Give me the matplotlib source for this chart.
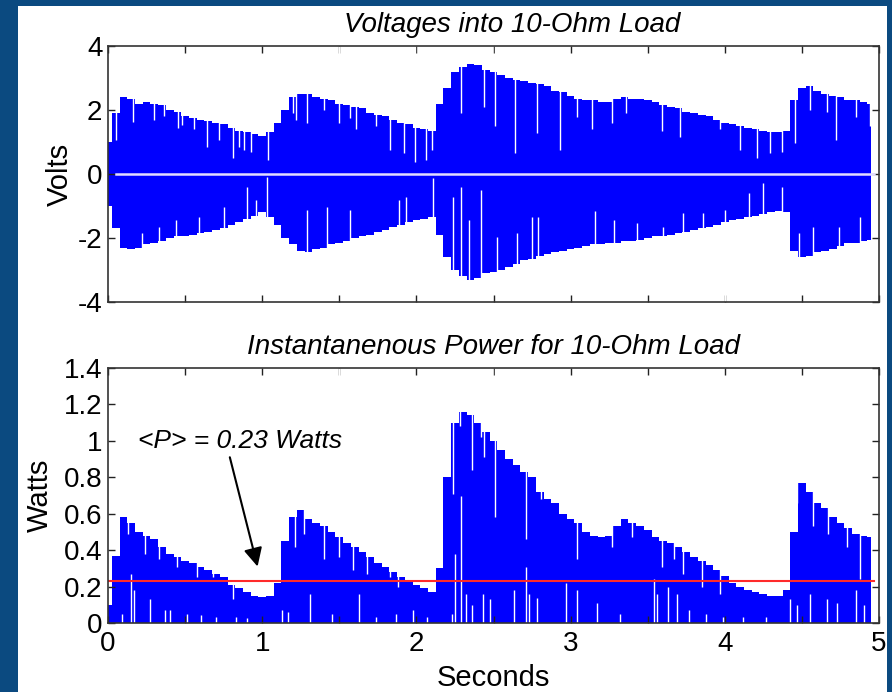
import numpy as np
import matplotlib
matplotlib.use("Agg")
import matplotlib.pyplot as plt
from matplotlib.patches import Rectangle

plt.rcParams["font.family"] = ["Liberation Sans", "DejaVu Sans"]
plt.rcParams["axes.unicode_minus"] = False

# ---------------------------------------------------------------- data
# envelope sample times (s)
t_env = np.round(np.arange(0.0, 5.0, 0.05), 2)

# voltage envelope (V), upper and lower
v_upper = [1.0, 1.9, 2.4, 2.35, 2.2, 2.25, 2.2, 2.15, 2.0, 1.95,
           1.8, 1.75, 1.7, 1.65, 1.6, 1.55, 1.45, 1.35, 1.3, 1.25,
           1.2, 1.3, 1.6, 2.0, 2.4, 2.5, 2.5, 2.4, 2.35, 2.3,
           2.2, 2.15, 2.1, 2.05, 1.9, 1.85, 1.8, 1.7, 1.6, 1.55,
           1.45, 1.4, 1.35, 2.2, 2.7, 3.2, 3.35, 3.45, 3.4, 3.25,
           3.2, 3.1, 3.0, 2.95, 2.9, 2.85, 2.8, 2.75, 2.6, 2.55,
           2.45, 2.35, 2.3, 2.3, 2.25, 2.25, 2.35, 2.4, 2.35, 2.35,
           2.3, 2.25, 2.15, 2.1, 2.05, 1.95, 1.9, 1.85, 1.8, 1.7,
           1.6, 1.55, 1.5, 1.45, 1.4, 1.35, 1.3, 1.3, 1.35, 2.3,
           2.7, 2.75, 2.6, 2.5, 2.45, 2.4, 2.3, 2.3, 2.25, 2.2]
v_lower = [-1.0, -1.7, -2.3, -2.35, -2.3, -2.2, -2.15, -2.1, -2.0, -1.95,
           -1.95, -1.9, -1.85, -1.8, -1.75, -1.7, -1.6, -1.5, -1.4, -1.3,
           -1.2, -1.35, -1.6, -2.0, -2.2, -2.4, -2.45, -2.35, -2.3, -2.2,
           -2.15, -2.1, -2.0, -1.95, -1.9, -1.8, -1.75, -1.65, -1.6, -1.5,
           -1.45, -1.4, -1.35, -1.9, -2.6, -3.0, -3.2, -3.3, -3.25, -3.1,
           -3.05, -3.0, -2.9, -2.8, -2.7, -2.65, -2.55, -2.5, -2.45, -2.4,
           -2.35, -2.3, -2.25, -2.2, -2.2, -2.15, -2.15, -2.1, -2.1, -2.05,
           -2.0, -1.95, -1.95, -1.9, -1.85, -1.8, -1.75, -1.7, -1.65, -1.6,
           -1.5, -1.45, -1.4, -1.35, -1.3, -1.25, -1.2, -1.15, -1.2, -2.4,
           -2.6, -2.55, -2.45, -2.4, -2.35, -2.25, -2.15, -2.15, -2.1, -2.05]

# short drops of the voltage peaks (time, level)
v_dip_hi_t = [0.05, 0.16, 0.30, 0.36, 0.455, 0.48, 0.56, 0.64, 0.72, 0.81,
              0.85, 0.88, 0.93, 1.04, 1.20, 1.22, 1.29, 1.40, 1.50, 1.57,
              1.61, 1.74, 1.83, 1.92, 1.99, 2.06, 2.10, 2.29, 2.44, 2.51,
              2.64, 2.78, 2.93, 3.04, 3.14, 3.27, 3.36, 3.59, 3.71, 3.97,
              4.10, 4.21, 4.29, 4.37, 4.455, 4.55, 4.66, 4.72, 4.85, 4.94]
v_dip_hi_v = [1.06, 1.63, 1.69, 1.81, 1.43, 1.53, 1.41, 0.85, 1.06, 0.49,
              0.85, 0.75, 0.70, 0.44, 1.90, 1.69, 1.60, 2.00, 1.60, 1.74,
              1.41, 1.50, 0.75, 0.65, 0.39, 0.44, 0.75, 1.90, 2.10, 1.50,
              0.65, 1.27, 0.75, 1.79, 1.41, 1.60, 1.90, 1.35, 1.17, 1.41,
              0.75, 0.49, 0.65, 0.70, 0.96, 2.00, 1.95, 1.06, 1.79, 1.50]
v_dip_lo_t = [0.22, 0.33, 0.44, 0.59, 0.75, 0.90, 0.96, 1.03, 1.29, 1.42,
              1.57, 1.89, 1.93, 2.11, 2.24, 2.29, 2.34, 2.42, 2.52, 2.65,
              2.75, 2.79, 3.16, 3.28, 3.43, 3.60, 3.73, 3.86, 4.00, 4.16,
              4.25, 4.37, 4.48, 4.57, 4.74, 4.88]
v_dip_lo_v = [-1.85, -1.65, -1.44, -1.33, -1.02, -0.40, -0.81, -0.08, -1.13, -1.02,
              -1.13, -0.81, -0.71, -0.14, -0.71, -0.40, -1.44, -0.50, -1.96, -1.85,
              -1.33, -1.33, -1.17, -1.44, -1.54, -1.65, -1.23, -1.23, -1.13, -0.60,
              -0.29, -0.40, -1.85, -1.65, -1.65, -1.33]

# instantaneous power envelope (W)
p_upper = [0.10, 0.37, 0.58, 0.55, 0.50, 0.48, 0.46, 0.42, 0.38, 0.36,
           0.34, 0.33, 0.31, 0.29, 0.27, 0.25, 0.21, 0.19, 0.17, 0.15,
           0.14, 0.15, 0.22, 0.45, 0.58, 0.62, 0.57, 0.55, 0.53, 0.50,
           0.47, 0.44, 0.42, 0.39, 0.36, 0.33, 0.31, 0.28, 0.25, 0.23,
           0.21, 0.19, 0.17, 0.30, 0.80, 1.10, 1.16, 1.14, 1.10, 1.05,
           1.00, 0.95, 0.90, 0.87, 0.83, 0.80, 0.72, 0.68, 0.66, 0.60,
           0.57, 0.55, 0.50, 0.48, 0.47, 0.48, 0.53, 0.57, 0.55, 0.53,
           0.51, 0.47, 0.45, 0.44, 0.42, 0.39, 0.36, 0.34, 0.32, 0.29,
           0.26, 0.22, 0.20, 0.18, 0.17, 0.16, 0.15, 0.15, 0.18, 0.50,
           0.77, 0.72, 0.66, 0.63, 0.58, 0.55, 0.52, 0.49, 0.48, 0.47]

# short drops of the power peaks (time, level)
p_dip_hi_t = [0.13, 0.24, 0.33, 0.45, 0.58, 0.68, 0.81, 1.21, 1.27, 1.40,
              1.50, 1.59, 1.68, 1.83, 1.88, 2.24, 2.28, 2.36, 2.42, 2.44,
              2.51, 2.71, 2.81, 3.04, 3.13, 3.27, 3.40, 3.59, 3.67, 3.73,
              3.85, 3.97, 4.47, 4.575, 4.67, 4.79, 4.88]
p_dip_hi_v = [0.49, 0.38, 0.35, 0.31, 0.25, 0.25, 0.13, 0.42, 0.49, 0.35,
              0.36, 0.29, 0.27, 0.25, 0.20, 0.71, 1.08, 0.84, 1.02, 0.91,
              0.58, 0.46, 0.68, 0.35, 0.53, 0.42, 0.47, 0.31, 0.35, 0.27,
              0.20, 0.16, 0.66, 0.53, 0.49, 0.42, 0.24]

# instants where the power stays clear of zero (time, lowest level)
p_gap_t = [0.09, 0.15, 0.17, 0.27, 0.37, 0.40, 0.51, 0.60, 0.70, 0.83,
           0.90, 1.13, 1.17, 1.31, 1.45, 1.63, 1.74, 1.87, 1.98, 2.07,
           2.23, 2.25, 2.29, 2.32, 2.36, 2.43, 2.48, 2.63, 2.71, 2.73,
           2.78, 2.97, 3.04, 3.17, 3.32, 3.54, 3.56, 3.63, 3.69, 3.77,
           3.88, 3.99, 4.12, 4.27, 4.42, 4.47, 4.55, 4.66, 4.73, 4.85,
           4.90, 4.96]
p_gap_v = [0.05, 0.27, 0.18, 0.13, 0.07, 0.07, 0.05, 0.045, 0.035, 0.035,
           0.03, 0.07, 0.06, 0.16, 0.05, 0.16, 0.035, 0.05, 0.07, 0.035,
           0.05, 0.38, 0.70, 0.16, 0.10, 0.16, 0.13, 0.18, 0.31, 0.16,
           0.14, 0.22, 0.18, 0.11, 0.05, 0.24, 0.16, 0.20, 0.16, 0.07,
           0.05, 0.035, 0.035, 0.035, 0.13, 0.10, 0.16, 0.13, 0.11, 0.18,
           0.10, 0.16]

p_mean = 0.23          # average power (W)
t_start, t_end = 0.0, 4.97

# ---------------------------------------------------------------- figure
W, H = 892, 692
fig = plt.figure(figsize=(W / 100, H / 100), dpi=100)
fig.patch.set_facecolor("#0b4a80")
fig.add_artist(Rectangle((18 / W, 0), (887 - 18) / W, (H - 6) / H,
                         transform=fig.transFigure, facecolor="white",
                         edgecolor="none", zorder=0))

ax1 = fig.add_axes([108 / W, (H - 302) / H, 771 / W, 256 / H])
ax2 = fig.add_axes([108 / W, (H - 623) / H, 771 / W, 255 / H])

BLUE = "#0000ff"
DIP = "white"

# ---- voltage
ax1.fill_between(t_env, v_lower, v_upper, color=BLUE, lw=0, zorder=2,
                 step="mid")
ax1.vlines(v_dip_hi_t, v_dip_hi_v, 4, color=DIP, lw=1.0, zorder=3)
ax1.vlines(v_dip_lo_t, -4, v_dip_lo_v, color=DIP, lw=1.0, zorder=3)
ax1.plot([0.05, t_end], [0, 0], color="#e2dcff", lw=1.8, zorder=4)

ax1.set_xlim(0, 5)
ax1.set_ylim(-4, 4)
ax1.set_xticks(np.arange(0, 5.01, 0.5))
ax1.set_xticklabels([])
ax1.set_yticks([-4, -2, 0, 2, 4])
ax1.set_yticklabels(["-4", "-2", "0", "2", "4"])
ax1.set_ylabel("Volts", fontsize=21, labelpad=3)
ax1.set_title("Voltages into 10-Ohm Load", fontsize=20, style="italic",
              pad=10, x=0.524)

# ---- power
ax2.fill_between(t_env, 0, p_upper, color=BLUE, lw=0, zorder=2, step="mid")
ax2.vlines(p_dip_hi_t, p_dip_hi_v, 1.4, color=DIP, lw=1.0, zorder=3)
ax2.vlines(p_gap_t, 0, p_gap_v, color=DIP, lw=1.0, zorder=3)
ax2.plot([t_start, t_end], [p_mean, p_mean], color="#ff2a2a", lw=1.5, zorder=4)

ax2.set_xlim(0, 5)
ax2.set_ylim(0, 1.4)
xt = np.arange(0, 5.01, 0.5)
ax2.set_xticks(xt)
ax2.set_xticklabels([f"{v:g}" if v == int(v) else "" for v in xt])
yt = [0, 0.2, 0.4, 0.6, 0.8, 1.0, 1.2, 1.4]
ax2.set_yticks(yt)
ax2.set_yticklabels([f"{v:g}" for v in yt])
ax2.set_ylabel("Watts", fontsize=21, labelpad=7)
ax2.set_xlabel("Seconds", fontsize=21, labelpad=5)
ax2.set_title("Instantanenous Power for 10-Ohm Load", fontsize=20,
              style="italic", pad=10)

ax2.text(0.195, 0.96, f"<P> = {p_mean:.2f} Watts", fontsize=19,
         style="italic", ha="left", va="baseline", zorder=5)
ax2.annotate("", xy=(0.97, 0.31), xytext=(0.79, 0.91),
             arrowprops=dict(arrowstyle="-|>", color="black", lw=1.5,
                             mutation_scale=28, shrinkA=0, shrinkB=0),
             zorder=5)

for ax in (ax1, ax2):
    ax.set_axisbelow(False)
    ax.tick_params(direction="in", top=True, right=True, length=5,
                   width=1.0, labelsize=20, color="#222222")
    ax.tick_params(axis="y", pad=4)
    ax.tick_params(axis="x", pad=6)
    for s in ax.spines.values():
        s.set_linewidth(1.2)
        s.set_color("#333333")
        s.set_zorder(6)

fig.savefig("out.png", dpi=100, facecolor=fig.get_facecolor())
